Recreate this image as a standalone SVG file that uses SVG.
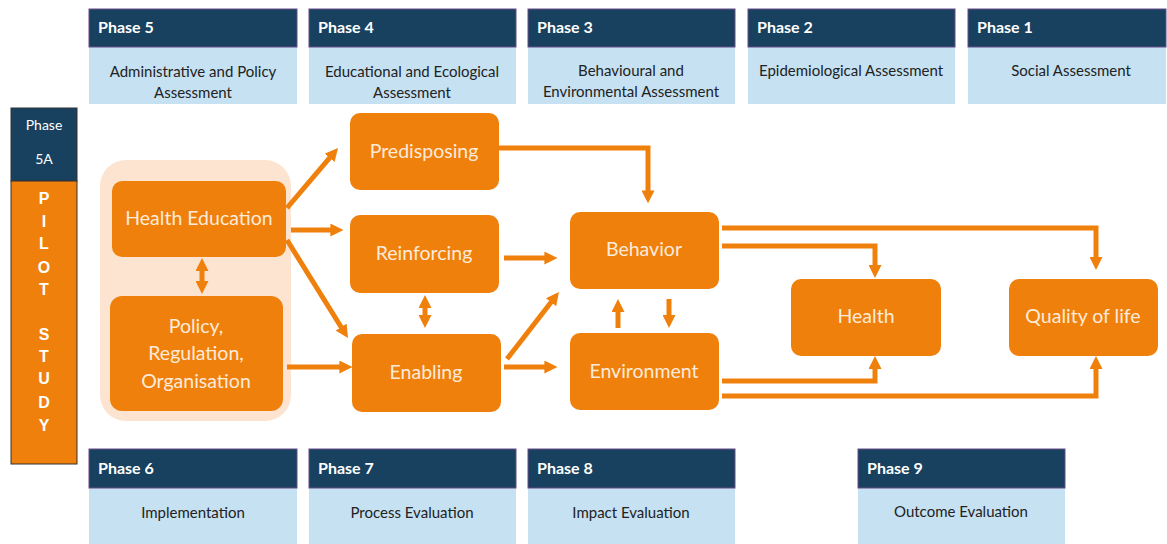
<svg xmlns="http://www.w3.org/2000/svg" width="1167" height="544" viewBox="0 0 1167 544">
<defs>
<style>
.hd{fill:#17415F;stroke:#6A4C87;stroke-width:1}
.bd{fill:#C5E1F2}
.ht{font-family:Lato,"Open Sans",sans-serif;font-weight:bold;font-size:16px;fill:#FFFFFF}
.bt{font-family:Lato,"Open Sans",sans-serif;font-size:15px;fill:#222222;text-anchor:middle}
.nd{fill:#F0800C}
.nt{font-family:Lato,"Open Sans",sans-serif;font-size:19.5px;fill:#FDEBDA;text-anchor:middle}
.pl{font-family:"Liberation Sans",Arial,sans-serif;font-weight:bold;font-size:16px;fill:#FFFFFF;text-anchor:middle}
.cn{fill:none;stroke:#F0800C;stroke-width:5;stroke-linejoin:miter}
</style>
<marker id="ah" viewBox="0 0 10 10" refX="2" refY="5" markerWidth="2.6" markerHeight="2.6" orient="auto-start-reverse" markerUnits="strokeWidth">
<path d="M0,0 L10,5 L0,10 z" fill="#F0800C"/>
</marker>
</defs>
<rect width="1167" height="544" fill="#FFFFFF"/>

<g id="phase5">
<rect class="bd" x="89" y="47" width="208" height="57"/>
<rect class="hd" x="89" y="9" width="208" height="38"/>
<text class="ht" x="98" y="33">Phase 5</text>
<text class="bt" x="193" y="77">Administrative and Policy</text>
<text class="bt" x="193" y="98">Assessment</text>
</g>
<g id="phase4">
<rect class="bd" x="309" y="47" width="207" height="57"/>
<rect class="hd" x="309" y="9" width="207" height="38"/>
<text class="ht" x="318" y="33">Phase 4</text>
<text class="bt" x="412" y="77">Educational and Ecological</text>
<text class="bt" x="412" y="98">Assessment</text>
</g>
<g id="phase3">
<rect class="bd" x="528" y="47" width="207" height="57"/>
<rect class="hd" x="528" y="9" width="207" height="38"/>
<text class="ht" x="537" y="33">Phase 3</text>
<text class="bt" x="631" y="76">Behavioural and</text>
<text class="bt" x="631" y="97">Environmental Assessment</text>
</g>
<g id="phase2">
<rect class="bd" x="748" y="47" width="207" height="57"/>
<rect class="hd" x="748" y="9" width="207" height="38"/>
<text class="ht" x="757" y="33">Phase 2</text>
<text class="bt" x="851" y="76">Epidemiological Assessment</text>
</g>
<g id="phase1">
<rect class="bd" x="968" y="47" width="198" height="57"/>
<rect class="hd" x="968" y="9" width="198" height="38"/>
<text class="ht" x="977" y="33">Phase 1</text>
<text class="bt" x="1071" y="76">Social Assessment</text>
</g>

<g id="phase6">
<rect class="bd" x="89" y="488" width="208" height="56"/>
<rect class="hd" x="89" y="449" width="208" height="39"/>
<text class="ht" x="98" y="474">Phase 6</text>
<text class="bt" x="193" y="518">Implementation</text>
</g>
<g id="phase7">
<rect class="bd" x="309" y="488" width="207" height="56"/>
<rect class="hd" x="309" y="449" width="207" height="39"/>
<text class="ht" x="318" y="474">Phase 7</text>
<text class="bt" x="412" y="518">Process Evaluation</text>
</g>
<g id="phase8">
<rect class="bd" x="528" y="488" width="207" height="56"/>
<rect class="hd" x="528" y="449" width="207" height="39"/>
<text class="ht" x="537" y="474">Phase 8</text>
<text class="bt" x="631" y="518">Impact Evaluation</text>
</g>
<g id="phase9">
<rect class="bd" x="858" y="488" width="207" height="56"/>
<rect class="hd" x="858" y="449" width="207" height="39"/>
<text class="ht" x="867" y="474">Phase 9</text>
<text class="bt" x="961" y="517">Outcome Evaluation</text>
</g>

<g id="phase5a">
<rect x="11" y="108" width="66" height="73" fill="#17415F" stroke="#333333" stroke-width="1"/>
<rect x="11" y="181" width="66" height="283" fill="#F0800C" stroke="#333333" stroke-width="1"/>
<text class="ht" x="44" y="130" text-anchor="middle" style="font-weight:normal;font-size:14px">Phase</text>
<text class="ht" x="44" y="164" text-anchor="middle" style="font-weight:normal;font-size:14px">5A</text>
<text class="pl" x="44" y="204">P</text>
<text class="pl" x="44" y="227">I</text>
<text class="pl" x="44" y="249">L</text>
<text class="pl" x="44" y="273">O</text>
<text class="pl" x="44" y="295">T</text>
<text class="pl" x="44" y="340">S</text>
<text class="pl" x="44" y="362">T</text>
<text class="pl" x="44" y="384">U</text>
<text class="pl" x="44" y="408">D</text>
<text class="pl" x="44" y="431">Y</text>
</g>

<g id="group-bg">
<rect x="100" y="160" width="191" height="261" rx="26" fill="#FCE4D0"/>
</g>

<g id="health-education">
<rect class="nd" x="112" y="181" width="174" height="76" rx="10"/>
<text class="nt" x="199" y="225">Health Education</text>
</g>
<g id="policy">
<rect class="nd" x="110" y="296" width="173" height="115" rx="12"/>
<text class="nt" x="196" y="333">Policy,</text>
<text class="nt" x="196" y="360">Regulation,</text>
<text class="nt" x="196" y="388">Organisation</text>
</g>
<g id="predisposing">
<rect class="nd" x="350" y="113" width="149" height="77" rx="10"/>
<text class="nt" x="424" y="158">Predisposing</text>
</g>
<g id="reinforcing">
<rect class="nd" x="350" y="215" width="149" height="78" rx="10"/>
<text class="nt" x="424" y="260">Reinforcing</text>
</g>
<g id="enabling">
<rect class="nd" x="352" y="334" width="149" height="78" rx="10"/>
<text class="nt" x="426" y="379">Enabling</text>
</g>
<g id="behavior">
<rect class="nd" x="570" y="212" width="149" height="77" rx="10"/>
<text class="nt" x="644" y="256">Behavior</text>
</g>
<g id="environment">
<rect class="nd" x="570" y="333" width="149" height="77" rx="10"/>
<text class="nt" x="644" y="378">Environment</text>
</g>
<g id="health">
<rect class="nd" x="791" y="279" width="150" height="77" rx="10"/>
<text class="nt" x="866" y="323">Health</text>
</g>
<g id="quality-of-life">
<rect class="nd" x="1009" y="279" width="149" height="77" rx="10"/>
<text class="nt" x="1083" y="323">Quality of life</text>
</g>

<g id="connectors">
<path class="cn" marker-end="url(#ah)" d="M287,208 L331.3,155.9"/>
<path class="cn" marker-end="url(#ah)" d="M291,230 H333"/>
<path class="cn" marker-end="url(#ah)" d="M287,240 L342.5,329.2"/>
<path class="cn" marker-end="url(#ah)" d="M287,367 H342"/>
<path class="cn" marker-start="url(#ah)" marker-end="url(#ah)" d="M202,268.4 V283.6"/>
<path class="cn" marker-start="url(#ah)" marker-end="url(#ah)" d="M425,305.4 V317.6"/>
<path class="cn" marker-end="url(#ah)" d="M504,258 H547"/>
<path class="cn" marker-end="url(#ah)" d="M507,359 L552.6,300.2"/>
<path class="cn" marker-end="url(#ah)" d="M504,367 H547"/>
<path class="cn" marker-end="url(#ah)" d="M499,148 H648 V193"/>
<path class="cn" marker-end="url(#ah)" d="M618,328 V309.4"/>
<path class="cn" marker-end="url(#ah)" d="M669,299 V317.6"/>
<path class="cn" marker-end="url(#ah)" d="M722,228 H1096 V259.6"/>
<path class="cn" marker-end="url(#ah)" d="M722,246 H875 V267.6"/>
<path class="cn" marker-end="url(#ah)" d="M722,381 H875 V366.4"/>
<path class="cn" marker-end="url(#ah)" d="M722,396 H1096 V366.4"/>
</g>
</svg>
